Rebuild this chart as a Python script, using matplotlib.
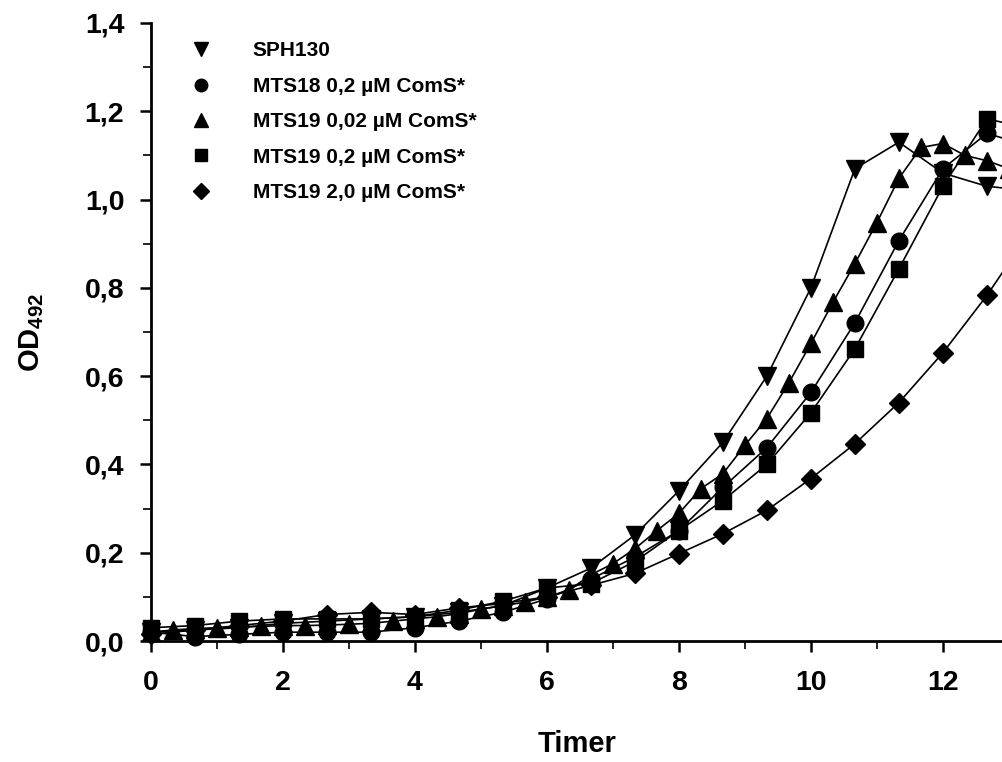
import numpy as np
import matplotlib
matplotlib.use("Agg")
import matplotlib.pyplot as plt
from matplotlib.ticker import MultipleLocator, FuncFormatter

plt.rcParams["font.family"] = ["Liberation Sans", "DejaVu Sans"]
plt.rcParams["font.weight"] = "bold"
plt.rcParams["mathtext.fontset"] = "custom"
plt.rcParams["mathtext.rm"] = "Liberation Sans:bold"
plt.rcParams["mathtext.bf"] = "Liberation Sans:bold"
plt.rcParams["mathtext.it"] = "Liberation Sans:bold"

# sampling every 40 min (hours)
t40 = [0, 0.667, 1.333, 2, 2.667, 3.333, 4, 4.667, 5.333, 6, 6.667, 7.333,
       8, 8.667, 9.333, 10, 10.667, 11.333, 12, 12.667, 13.333]
# sampling every 20 min (hours)
t20 = [0, 0.333, 0.667, 1, 1.333, 1.667, 2, 2.333, 2.667, 3, 3.333, 3.667,
       4, 4.333, 4.667, 5, 5.333, 5.667, 6, 6.333, 6.667, 7, 7.333, 7.667,
       8, 8.333, 8.667, 9, 9.333, 9.667, 10, 10.333, 10.667, 11, 11.333,
       11.667, 12, 12.333, 12.667, 13]

sph130 = [0.02, 0.025, 0.03, 0.04, 0.045, 0.05, 0.055, 0.065, 0.08, 0.12,
          0.165, 0.24, 0.34, 0.45, 0.60, 0.80, 1.07, 1.13, 1.06, 1.03, 1.02]
mts18_02 = [0.02, 0.01, 0.015, 0.02, 0.02, 0.02, 0.03, 0.045, 0.065, 0.095,
            0.14, 0.19, 0.25, 0.348, 0.438, 0.563, 0.721, 0.907, 1.07, 1.15, 1.12]
mts19_002 = [0.02, 0.025, 0.028, 0.03, 0.032, 0.033, 0.035, 0.035, 0.036,
             0.038, 0.04, 0.045, 0.05, 0.055, 0.062, 0.072, 0.08, 0.088,
             0.10, 0.115, 0.15, 0.175, 0.209, 0.25, 0.289, 0.345, 0.379,
             0.443, 0.504, 0.585, 0.674, 0.767, 0.855, 0.948, 1.048, 1.118,
             1.127, 1.10, 1.088, 1.07]
mts19_02 = [0.03, 0.035, 0.045, 0.05, 0.05, 0.05, 0.055, 0.07, 0.09, 0.12,
            0.13, 0.18, 0.25, 0.318, 0.40, 0.517, 0.662, 0.843, 1.03, 1.183, 1.16]
mts19_20 = [0.015, 0.025, 0.035, 0.045, 0.06, 0.065, 0.06, 0.075, 0.085, 0.10,
            0.126, 0.153, 0.198, 0.243, 0.296, 0.368, 0.447, 0.54, 0.653, 0.783, 0.93]

labels = ["SPH130", "MTS18 0,2 µM ComS*", "MTS19 0,02 µM ComS*",
          "MTS19 0,2 µM ComS*", "MTS19 2,0 µM ComS*"]

series = [
    (t40, sph130, "v"),
    (t40, mts18_02, "o"),
    (t20, mts19_002, "^"),
    (t40, mts19_02, "s"),
    (t40, mts19_20, "D"),
]
marker_sizes = {"v": 12.5, "o": 12, "^": 12.5, "s": 11.5, "D": 10.5}

fig = plt.figure(figsize=(10.03, 7.62), dpi=100)
ax = fig.add_axes([150.7 / 1003, 121 / 762, 1 - 150.7 / 1003, (641 - 23) / 762])

for (tx, ty, mk), lab in zip(series, labels):
    ax.plot(tx, ty, color="black", linewidth=1.2, marker=mk,
            markersize=marker_sizes[mk], markerfacecolor="black",
            markeredgecolor="black", label=lab, clip_on=False)

ax.set_xlim(0, 12.91)
ax.set_ylim(0, 1.4)

ax.xaxis.set_major_locator(MultipleLocator(2))
ax.xaxis.set_minor_locator(MultipleLocator(1))
ax.yaxis.set_major_locator(MultipleLocator(0.2))
ax.yaxis.set_minor_locator(MultipleLocator(0.1))
ax.yaxis.set_major_formatter(FuncFormatter(lambda v, p: f"{v:.1f}".replace(".", ",")))
ax.xaxis.set_major_formatter(FuncFormatter(lambda v, p: f"{v:.0f}"))

ax.spines["top"].set_visible(False)
ax.spines["right"].set_visible(False)
ax.spines["left"].set_linewidth(2)
ax.spines["bottom"].set_linewidth(2)

ax.tick_params(axis="both", which="major", direction="out", length=8,
               width=1.8, labelsize=20.5)
ax.tick_params(axis="both", which="minor", direction="out", length=6,
               width=1.2)
ax.tick_params(axis="x", which="major", pad=13)
ax.tick_params(axis="y", which="major", pad=11)
for lbl in ax.get_xticklabels() + ax.get_yticklabels():
    lbl.set_fontweight("bold")

ax.set_xlabel("Timer", fontsize=21, fontweight="bold", labelpad=24)
ax.set_ylabel(r"OD$_{492}$", fontsize=21, fontweight="bold", labelpad=28)

leg = ax.legend(loc="upper left", bbox_to_anchor=(180 / 1003, 1 - 31 / 762),
                bbox_transform=fig.transFigure, frameon=False, fontsize=15,
                handlelength=1.0, handletextpad=2.0, labelspacing=0.79,
                markerscale=0.75, borderpad=0)
for line in leg.get_lines():
    line.set_linestyle("")

fig.savefig("out.png", dpi=100)
